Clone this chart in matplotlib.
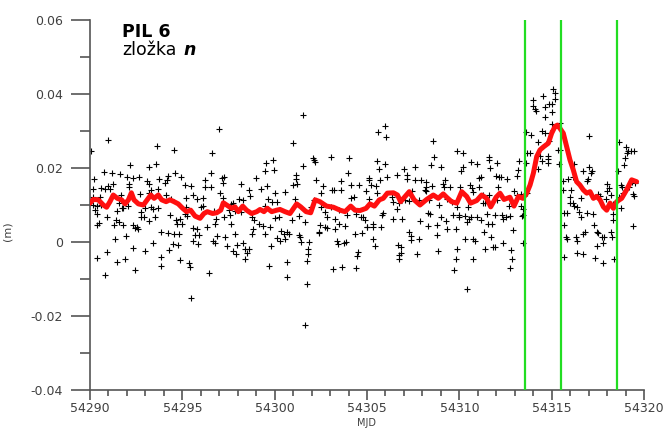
import matplotlib
matplotlib.use("Agg")
import matplotlib.pyplot as plt
from matplotlib.ticker import MultipleLocator, FuncFormatter
import numpy as np

MJD0 = 54290

# scatter points: day offset from MJD0, value in mm
pt_day = [
 0.04,0.97,3.65,4.55,0.22,0.76,1.19,1.62,2.17,3.18,3.59,4.22,4.62,4.95,2.02,2.31,2.67,3.07,3.72,0.14,
 0.61,0.97,1.23,0.79,1.08,2.09,2.13,3.21,3.29,3.68,4.08,4.19,3.21,0.14,0.54,1.70,2.71,4.12,4.37,0.14,
 0.40,0.58,1.59,1.73,0.36,0.29,0.90,1.44,1.81,2.06,2.74,2.96,3.32,3.43,3.68,2.78,2.92,3.50,4.33,4.66,
 1.41,1.55,1.81,2.31,2.53,2.60,2.42,1.30,0.51,0.36,3.18,4.73,4.98,3.86,4.22,4.55,4.84,1.95,1.34,3.43,
 4.48,4.77,4.30,2.35,2.96,0.90,0.40,1.48,1.88,3.83,4.87,0.83,2.45,3.83,
 7.00,6.61,9.53,9.93,9.46,9.96,6.57,6.21,7.15,7.26,7.22,5.16,5.49,6.21,6.53,5.60,5.20,5.81,6.14,7.04,
 7.18,8.05,8.27,8.19,8.99,9.24,8.63,9.60,8.66,9.64,9.86,9.50,7.65,7.76,7.51,5.99,6.10,5.20,6.71,5.13,
 5.23,7.26,6.82,7.58,4.87,5.60,5.78,6.32,6.75,7.62,8.77,8.88,9.17,9.39,9.75,8.81,9.46,7.83,6.86,7.29,
 5.67,5.88,5.60,5.85,6.64,6.75,7.44,7.98,8.30,8.41,8.59,8.48,8.38,7.91,7.76,9.78,5.38,5.42,6.43,9.71,
 5.45,8.77,8.16,7.87,
 11.52,11.01,12.06,12.13,12.20,13.07,14.04,11.55,13.97,11.16,11.16,12.24,10.97,11.23,12.64,13.57,14.12,
 14.58,13.10,13.21,13.57,12.53,10.54,10.04,14.12,14.30,14.95,10.14,11.12,11.95,12.53,12.13,13.47,12.74,
 12.85,13.07,13.29,13.47,13.79,14.40,14.69,14.80,14.98,13.94,10.04,10.25,10.94,11.30,11.66,12.46,12.71,
 12.82,13.25,10.36,10.51,10.65,10.79,11.34,11.37,10.11,10.29,10.58,11.88,11.41,12.38,12.42,13.36,13.43,
 13.75,13.86,14.33,14.73,14.51,14.44,11.81,11.81,11.77,10.69,10.65,11.73,13.14,13.65,14.41,11.66,
 15.99,15.60,16.03,18.59,19.89,18.63,15.56,15.96,15.67,17.00,17.58,18.48,19.03,15.13,15.13,15.70,16.10,
 16.61,17.18,17.18,17.62,17.94,18.19,19.21,15.49,15.20,15.56,17.44,18.19,18.19,18.52,19.10,19.17,19.49,
 18.12,15.09,16.35,16.43,16.71,17.04,17.29,17.83,18.38,18.92,19.31,19.60,16.64,15.85,15.81,14.87,15.34,
 15.02,15.34,15.78,16.43,16.90,17.87,18.30,18.41,18.30,18.77,19.03,19.28,19.35,19.68,19.96,18.77,19.82,
 17.26,17.36,17.36,17.80,15.34,15.41,16.68,16.82,16.72,16.86,16.75,17.73,18.84,19.89,19.82,19.71,
 20.18,20.07,20.22,20.61,20.94,21.59,21.59,21.66,22.06,23.25,23.18,23.11,21.16,21.08,21.99,22.17,22.24,
 22.60,20.04,20.58,20.69,21.05,22.09,22.96,23.14,23.36,20.76,21.26,21.62,21.41,21.55,21.26,22.02,20.47,
 19.89,22.71,23.36,20.00,20.29,20.54,20.43,20.61,20.97,21.19,21.48,21.55,21.77,21.91,22.31,22.38,22.53,
 22.74,22.92,23.39,21.34,21.70,20.29,20.76,20.83,23.43,22.38,21.41,21.81,21.91,22.82,20.72,22.85,22.74,
 20.43,
 24.01,24.55,23.97,24.12,24.15,24.62,24.87,24.62,23.61,23.90,24.48,24.66,24.26,23.65,23.83,24.37,24.80,
 24.48,24.26,23.47,23.43,23.61,23.68,
 25.09,25.20,25.20,25.02,25.02,25.45,25.02,24.91,24.87,24.80,24.80,25.34,25.45,25.42,27.04,28.63,29.03,
 29.13,29.06,29.31,29.46,28.99,28.92,28.77,28.59,26.21,27.04,27.18,27.11,26.97,26.68,26.93,25.63,25.88,
 26.17,25.60,26.06,25.99,26.57,25.99,26.21,26.14,26.39,26.50,26.61,25.85,25.67,26.90,27.26,25.67,27.29,
 27.62,27.51,28.01,28.09,28.01,28.23,27.94,28.01,28.34,28.81,28.88,28.63,28.74,29.21,29.39,29.35,29.53,
 29.46,28.34,28.30,29.39,25.78,25.81,26.32,26.39,26.68,26.82,27.44,27.51,27.73,27.83,27.76,28.23,28.27,
 27.44,26.39,26.71,25.67,27.36,27.76,28.38,
]
pt_mm = [
 24.6,27.7,26.0,24.8,17.1,18.8,18.6,18.3,20.7,20.4,21.1,17.9,18.7,17.5,17.7,17.4,17.7,16.6,17.1,14.4,
 14.7,15.1,15.6,14.4,14.4,15.6,14.9,15.6,14.1,14.3,15.9,16.8,13.2,12.1,12.1,12.6,12.9,12.6,11.5,9.9,
 9.7,10.0,10.5,9.1,7.5,8.6,6.8,8.5,9.2,9.7,8.2,9.1,9.4,9.0,9.1,6.8,6.7,6.7,7.3,5.9,
 5.9,5.3,4.5,4.6,4.1,3.4,3.7,4.6,5.2,4.7,5.6,4.9,4.9,2.8,2.5,2.1,2.2,1.6,0.7,-0.4,
 -0.5,-0.9,-2.1,-1.7,-2.4,-2.7,-4.4,-5.4,-4.5,-4.1,-4.9,-9.0,-7.7,-6.6,
 30.5,24.0,21.4,22.1,19.3,19.5,18.7,16.7,17.4,17.5,16.0,15.3,15.1,14.9,14.9,12.8,11.9,11.6,11.9,13.3,
 11.9,11.5,11.4,15.6,17.3,14.2,14.0,15.2,12.3,11.7,10.8,9.7,10.3,10.6,8.6,9.5,9.7,9.5,8.5,7.7,
 7.0,6.7,6.3,7.3,6.1,3.8,3.5,4.1,4.9,4.9,6.8,5.9,5.0,4.3,4.1,3.4,2.1,2.2,1.6,1.4,
 2.0,1.9,0.3,-0.6,0.3,-0.4,-1.0,-0.7,-0.4,-1.8,-1.8,-3.1,-4.5,-3.2,-2.5,-1.1,-5.8,-6.8,-8.4,-6.5,
 -15.0,2.1,8.1,8.3,
 34.4,26.7,22.8,22.2,21.6,23.1,22.6,20.5,18.7,18.0,17.1,16.8,15.4,15.7,15.1,16.4,15.3,
 15.3,14.1,14.0,14.1,13.2,13.4,13.3,11.9,12.1,13.7,10.9,11.6,9.4,9.4,11.4,8.6,8.1,
 6.8,9.5,6.1,5.0,4.3,7.6,6.7,6.8,4.1,7.3,6.5,6.8,5.9,7.0,5.4,4.5,4.1,
 3.9,3.6,2.9,2.2,2.7,2.2,2.0,1.4,1.1,0.4,0.9,0.1,0.0,2.8,2.5,0.2,-0.5,
 -0.2,-0.1,2.2,2.5,-2.7,-3.7,-2.0,-3.2,-5.1,-5.5,-9.5,-11.3,-7.2,-6.7,-6.9,-22.5,
 31.4,29.7,28.3,27.4,24.5,23.1,22.0,21.1,19.8,19.6,20.4,20.7,20.2,17.3,16.8,16.8,17.7,
 18.0,18.2,17.1,16.8,16.8,16.2,16.8,15.1,15.3,13.2,13.7,15.0,13.7,15.1,15.7,14.8,14.8,
 14.1,11.5,12.1,10.8,10.6,11.4,11.2,11.4,11.4,10.1,11.7,10.8,8.8,7.9,7.4,5.9,4.9,
 4.0,4.0,4.0,6.3,6.3,5.8,7.9,7.5,4.3,4.5,6.8,5.6,3.6,7.4,6.8,2.0,3.4,
 2.7,1.6,0.5,0.7,0.7,-1.1,-0.7,-1.3,-3.4,-3.1,-4.7,-3.2,-2.5,-2.0,-4.7,-7.6,
 24.1,19.3,20.2,21.6,21.1,22.9,22.2,20.0,21.3,21.8,19.5,17.8,17.7,17.3,17.8,17.7,17.5,
 16.9,14.8,15.5,14.6,14.9,14.8,13.9,12.6,13.0,13.5,12.6,12.6,10.6,10.5,10.6,11.4,9.5,
 9.5,9.7,9.7,7.2,7.0,6.1,5.4,6.8,6.8,5.9,7.6,4.9,4.9,7.4,7.4,6.1,6.7,
 7.0,3.2,7.0,2.7,1.4,0.7,0.7,0.2,-0.2,-0.4,-1.8,-1.3,-1.4,-2.2,-4.7,-4.7,-7.0,
 -12.8,
 38.4,39.5,36.8,36.0,35.5,36.6,37.3,33.9,29.7,29.0,29.9,29.4,27.0,24.1,24.0,23.2,23.2,
 21.8,19.8,7.2,8.8,21.3,13.3,
 41.4,40.2,38.7,37.3,35.1,32.1,31.9,29.4,27.4,22.5,21.4,25.0,24.9,21.1,28.6,27.0,25.8,
 24.7,24.1,24.5,24.5,22.7,20.7,15.5,19.3,21.1,20.4,19.3,18.7,16.9,19.3,16.4,16.6,16.9,
 17.7,14.1,14.1,12.1,11.9,10.5,9.7,10.6,9.5,8.1,6.7,7.9,7.9,7.9,7.6,4.5,4.5,
 12.4,13.0,15.7,14.6,13.9,12.8,11.7,9.5,10.3,14.8,13.2,12.1,9.2,14.8,13.0,16.2,15.9,
 12.3,5.9,7.7,4.3,1.4,0.7,1.3,0.4,2.2,2.7,2.7,2.3,1.4,1.3,-0.4,2.7,1.4,
 -1.1,-2.9,-3.2,-4.0,-4.3,-5.6,-4.7,
]

# smoothed series (red)
line_day = [
 0.00,0.18,0.45,0.72,0.90,1.08,1.26,1.48,1.71,1.90,2.08,2.24,2.38,2.62,2.89,3.10,3.29,3.47,3.70,3.88,
 4.12,4.33,4.55,4.78,5.02,5.23,5.45,5.69,5.96,6.17,6.35,6.64,6.86,7.08,7.22,7.40,7.67,7.85,8.03,8.27,
 8.48,8.75,9.03,9.21,9.42,9.60,9.84,10.11,
 10.29,10.56,10.83,11.19,11.41,11.70,11.95,12.19,12.45,12.81,13.18,13.54,13.81,14.12,14.35,14.62,14.95,
 15.16,15.40,15.67,15.88,16.10,16.43,16.65,16.82,17.06,17.29,17.55,17.87,18.23,18.59,18.86,19.13,19.31,
 19.58,19.86,20.13,20.40,20.61,20.94,21.21,21.48,21.70,21.99,22.20,22.42,22.74,22.96,23.20,23.44,
 23.65,23.83,24.01,24.19,24.37,24.58,24.82,25.00,25.18,25.31,25.45,25.63,25.81,25.99,26.17,26.35,26.53,
 26.71,26.90,27.08,27.26,27.44,27.62,27.80,27.98,28.16,28.34,28.52,28.79,29.06,29.33,29.60,
]
line_mm = [
 10.5,11.5,11.4,10.0,9.4,10.9,12.7,11.8,11.4,10.3,11.4,13.3,11.4,10.3,10.0,11.4,12.7,11.8,12.7,11.4,
 10.9,11.4,10.9,10.3,9.1,8.2,8.6,7.0,6.4,7.7,8.2,7.7,7.9,8.6,10.6,10.0,9.1,9.5,8.2,9.7,
 8.6,7.7,8.2,8.8,8.2,9.1,8.2,8.6,
 8.8,8.2,7.7,10.3,9.5,8.2,7.9,11.4,10.9,9.7,9.4,8.6,8.2,9.7,8.6,8.5,9.1,
 10.3,9.7,11.4,11.8,13.2,13.3,12.7,10.9,12.3,13.6,11.4,10.0,11.5,12.7,11.8,13.0,12.1,
 10.9,10.5,13.6,12.3,10.5,11.2,12.7,11.8,9.5,12.1,13.2,11.5,12.1,9.7,12.3,11.8,
 13.2,15.4,18.6,23.1,24.9,25.8,26.7,29.4,31.2,31.6,30.7,29.4,25.8,22.2,19.5,16.3,15.4,
 14.1,13.2,13.6,11.8,12.3,11.4,9.5,8.6,10.5,9.1,10.9,11.8,14.1,16.8,16.3,
]

event_mjd = [54313.55, 54315.53, 54318.53]

pt_x = MJD0 + np.array(pt_day)
pt_y = np.array(pt_mm) / 1000.0
ln_x = MJD0 + np.array(line_day)
ln_y = np.array(line_mm) / 1000.0

W, H = 665, 429
fig = plt.figure(figsize=(W / 100, H / 100), dpi=100)
ax = fig.add_axes([90 / W, 1 - 390 / H, (644 - 90) / W, (390 - 20) / H])

ax.plot(pt_x, pt_y, linestyle='none', marker='+', color='black',
        markersize=4, markeredgewidth=0.8, zorder=2)
ax.plot(ln_x, ln_y, color='#ff1010', linewidth=3.6, solid_joinstyle='round',
        solid_capstyle='round', zorder=3)
for m in event_mjd:
    ax.axvline(m, color='#22dd22', linewidth=1.6, zorder=4)

ax.set_xlim(54290, 54320)
ax.set_ylim(-0.04, 0.06)

for s in ('top', 'right'):
    ax.spines[s].set_visible(False)
for s in ('left', 'bottom'):
    ax.spines[s].set_color('#555555')
    ax.spines[s].set_linewidth(1.2)

ax.xaxis.set_major_locator(MultipleLocator(5))
ax.xaxis.set_minor_locator(MultipleLocator(1))
ax.yaxis.set_major_locator(MultipleLocator(0.02))
ax.yaxis.set_minor_locator(MultipleLocator(0.01))
ax.xaxis.set_major_formatter(FuncFormatter(lambda v, p: '%d' % round(v)))
ax.yaxis.set_major_formatter(FuncFormatter(lambda v, p: '%g' % round(v, 4)))

ax.tick_params(axis='y', which='major', direction='out', length=13.5, width=1.2,
               color='#555555', labelsize=9, labelcolor='#404040', pad=6)
ax.tick_params(axis='y', which='minor', direction='out', length=7, width=1.2, color='#555555')
ax.tick_params(axis='x', which='major', direction='out', length=7.5, width=1.2,
               color='#555555', labelsize=9, labelcolor='#404040', pad=1.5)
ax.tick_params(axis='x', which='minor', direction='out', length=4.5, width=1.2, color='#555555')

ax.set_xlabel('MJD', fontsize=7, color='#404040', va='top')
ax.xaxis.set_label_coords(0.5, -0.0745)
ax.set_ylabel('(m)', fontsize=8, color='#404040')
ax.yaxis.set_label_coords(-0.14, 0.43)

t1 = ax.text(0.058, 0.954, 'PIL 6', transform=ax.transAxes, fontsize=12.5,
             fontweight='bold', color='black', ha='left', va='baseline')
t2 = ax.text(0.058, 0.905, 'zložka', transform=ax.transAxes, fontsize=12.5,
             color='black', ha='left', va='baseline')
ax.annotate('n', xy=(1, 0), xycoords=t2, xytext=(5, 0), textcoords='offset points',
            fontsize=12.5, fontweight='bold', fontstyle='italic', ha='left', va='bottom')

fig.savefig('out.png', dpi=100)
